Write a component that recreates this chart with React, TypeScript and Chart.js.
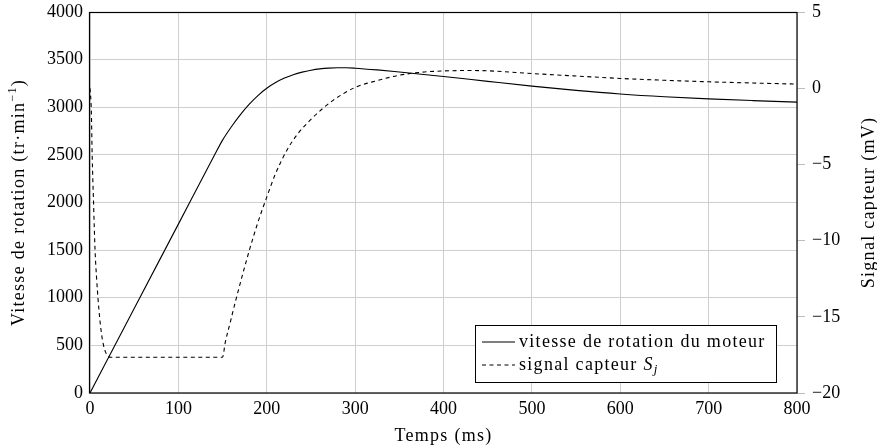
import React, { useEffect, useRef } from "react";
import { Chart, registerables } from "chart.js";

Chart.register(...registerables);

// Motor speed (tr·min⁻¹) vs time (ms)
const speedTime = [0, 50, 100, 140, 150, 160, 170, 180, 190, 200, 210, 220, 230, 240, 250, 260, 270, 280, 290, 300, 325, 350, 375, 400, 450, 500, 550, 600, 650, 700, 750, 800];
const speedValues = [0, 887, 1773, 2482, 2655, 2795, 2920, 3030, 3123, 3199, 3259, 3306, 3342, 3369, 3389, 3403, 3411, 3414, 3414, 3410, 3392, 3370, 3347, 3323, 3272, 3222, 3177, 3139, 3110, 3088, 3070, 3054];

// Sensor signal S_j (mV) vs time (ms)
const signalTime = [0, 1.5, 2.5, 4, 5.7, 7.5, 9.2, 11, 13, 15, 17.5, 20, 23, 150, 153, 159, 165, 180, 190, 200, 210, 223, 235, 250, 262, 275, 300, 325, 350, 375, 400, 425, 450, 500, 550, 600, 650, 700, 750, 800];
const signalValues = [0, -1.5, -4.5, -7.5, -10.6, -12.5, -13.9, -15.1, -16.1, -16.8, -17.3, -17.55, -17.65, -17.65, -16.7, -15.3, -13.9, -10.7, -8.8, -7.15, -5.6, -4.05, -3.0, -2.05, -1.4, -0.8, 0.05, 0.5, 0.85, 1.05, 1.13, 1.16, 1.14, 0.96, 0.8, 0.64, 0.52, 0.42, 0.34, 0.27];

const xTicks = { min: 0, max: 800, step: 100 };
const leftTicks = { min: 0, max: 4000, step: 500 };
const rightTicks = { min: -20, max: 5, step: 5 };

const xTitle = "Temps (ms)";
const leftTitle = "Vitesse de rotation (tr·min";
const leftTitleSup = "\u22121";
const rightTitle = "Signal capteur (mV)";
const legendLabels = ["vitesse de rotation du moteur", "signal capteur "];

const FONT = "'Liberation Serif', 'Times New Roman', serif";
const GRID = "#cfcfcf";
const SPACING = "1.3px";

type Seg = { text: string; size: number; italic?: boolean; dy?: number };

function drawSegs(ctx: CanvasRenderingContext2D, segs: Seg[], x: number, y: number, align: "left" | "center") {
  (ctx as any).letterSpacing = SPACING;
  let total = 0;
  const widths = segs.map((s) => {
    ctx.font = `${s.italic ? "italic " : ""}${s.size}px ${FONT}`;
    const w = ctx.measureText(s.text).width;
    total += w;
    return w;
  });
  let cx = align === "center" ? x - total / 2 : x;
  segs.forEach((s, i) => {
    ctx.font = `${s.italic ? "italic " : ""}${s.size}px ${FONT}`;
    ctx.textAlign = "left";
    ctx.textBaseline = "middle";
    ctx.fillText(s.text, cx, y + (s.dy || 0));
    cx += widths[i];
  });
  (ctx as any).letterSpacing = "0px";
}

const decorPlugin = {
  id: "decor",
  afterDraw(chart: any) {
    const { ctx, chartArea } = chart;
    const { left, right, top, bottom } = chartArea;
    ctx.save();
    ctx.fillStyle = "#000";
    ctx.strokeStyle = "#000";
    ctx.setLineDash([]);
    ctx.lineWidth = 1.2;
    ctx.strokeRect(left - 0.5, top + 0.5, right - left + 0.5, bottom - top - 0.5);

    // Legend
    const bx = right - 322;
    const by = bottom - 68;
    const bw = 301;
    const bh = 57;
    ctx.fillStyle = "#fff";
    ctx.fillRect(bx, by, bw, bh);
    ctx.lineWidth = 1;
    ctx.strokeStyle = "#000";
    ctx.strokeRect(bx + 0.5, by + 0.5, bw, bh);
    const r1 = by + 17;
    const r2 = by + 40;
    ctx.lineWidth = 1.1;
    ctx.beginPath();
    ctx.moveTo(bx + 7, r1);
    ctx.lineTo(bx + 40, r1);
    ctx.stroke();
    ctx.setLineDash([4, 3.5]);
    ctx.beginPath();
    ctx.moveTo(bx + 7, r2);
    ctx.lineTo(bx + 40, r2);
    ctx.stroke();
    ctx.setLineDash([]);
    ctx.fillStyle = "#000";
    drawSegs(ctx, [{ text: legendLabels[0], size: 18 }], bx + 44, r1, "left");
    drawSegs(
      ctx,
      [
        { text: legendLabels[1], size: 18 },
        { text: "S", size: 18, italic: true },
        { text: "j", size: 13, italic: true, dy: 5 },
      ],
      bx + 44,
      r2,
      "left"
    );

    // Axis titles
    const midY = (top + bottom) / 2;
    drawSegs(ctx, [{ text: xTitle, size: 18 }], (left + right) / 2, 436, "center");

    ctx.save();
    ctx.translate(19, midY);
    ctx.rotate(-Math.PI / 2);
    drawSegs(
      ctx,
      [
        { text: leftTitle, size: 18 },
        { text: leftTitleSup, size: 12, dy: -6 },
        { text: ")", size: 18 },
      ],
      0,
      0,
      "center"
    );
    ctx.restore();

    ctx.save();
    ctx.translate(869, midY);
    ctx.rotate(-Math.PI / 2);
    drawSegs(ctx, [{ text: rightTitle, size: 18 }], 0, 0, "center");
    ctx.restore();

    ctx.restore();
  },
};

function fixPad(s: any) {
  s.paddingTop = 0;
  s.paddingBottom = 0;
  s.paddingLeft = 0;
  s.paddingRight = 0;
}

export default function App() {
  const canvasRef = useRef<HTMLCanvasElement | null>(null);

  useEffect(() => {
    document.body.style.margin = "0";
    const canvas = canvasRef.current;
    if (!canvas) return;
    const tickFont = { family: FONT, size: 18 };
    const chart = new Chart(canvas, {
      type: "line",
      data: {
        datasets: [
          {
            label: legendLabels[0],
            data: speedTime.map((t, i) => ({ x: t, y: speedValues[i] })),
            yAxisID: "y",
            borderColor: "#000",
            borderWidth: 1.1,
            pointRadius: 0,
            fill: false,
            cubicInterpolationMode: "monotone",
          },
          {
            label: legendLabels[1] + "S_j",
            data: signalTime.map((t, i) => ({ x: t, y: signalValues[i] })),
            yAxisID: "y2",
            borderColor: "#000",
            borderWidth: 1.1,
            borderDash: [4, 3.5],
            pointRadius: 0,
            fill: false,
            cubicInterpolationMode: "monotone",
          },
        ],
      },
      options: {
        responsive: false,
        animation: false,
        layout: { padding: { top: 12, right: 0, bottom: 0, left: 0 } },
        plugins: { legend: { display: false }, tooltip: { enabled: false } },
        elements: { point: { radius: 0 } },
        scales: {
          x: {
            type: "linear",
            position: "bottom",
            min: xTicks.min,
            max: xTicks.max,
            ticks: {
              stepSize: xTicks.step,
              font: tickFont,
              color: "#000",
              padding: 5,
              maxRotation: 0,
              autoSkip: false,
              callback: (v: any) => String(v),
            },
            grid: { color: GRID, drawTicks: false },
            border: { display: false },
            afterFit: (s: any) => {
              s.height = 55;
              fixPad(s);
            },
          },
          y: {
            type: "linear",
            position: "left",
            min: leftTicks.min,
            max: leftTicks.max,
            ticks: {
              stepSize: leftTicks.step,
              font: tickFont,
              color: "#000",
              padding: 7,
              callback: (v: any) => String(v),
            },
            grid: { color: GRID, drawTicks: false },
            border: { display: false },
            afterFit: (s: any) => {
              s.width = 90;
              fixPad(s);
            },
          },
          y2: {
            type: "linear",
            position: "right",
            min: rightTicks.min,
            max: rightTicks.max,
            ticks: {
              stepSize: rightTicks.step,
              font: tickFont,
              color: "#000",
              padding: 7,
              callback: (v: any) => String(v).replace("-", "\u2212"),
            },
            grid: { drawOnChartArea: false, drawTicks: true, tickLength: 8, color: "#bdbdbd" },
            border: { display: false },
            afterFit: (s: any) => {
              s.width = 80;
              fixPad(s);
            },
          },
        },
      },
      plugins: [decorPlugin],
    } as any);
    return () => chart.destroy();
  }, []);

  return (
    <div style={{ width: 877, height: 448 }}>
      <canvas ref={canvasRef} width={877} height={448} />
    </div>
  );
}
